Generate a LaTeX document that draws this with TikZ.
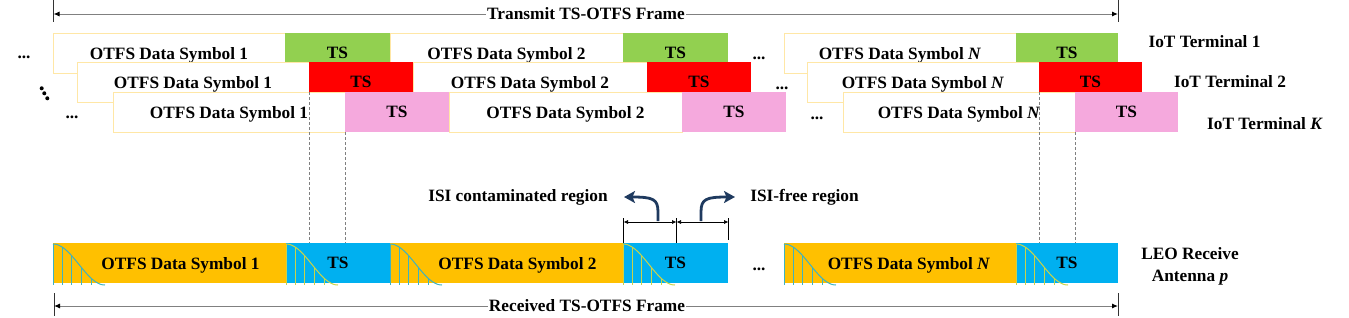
\documentclass[tikz,border=0pt]{standalone}
\usepackage{fontspec}
\setmainfont{Liberation Serif}
\usetikzlibrary{arrows.meta}
\definecolor{tsgreen}{HTML}{92D050}
\definecolor{tsred}{HTML}{FF0000}
\definecolor{tspink}{HTML}{F5A9DD}
\definecolor{rxorange}{HTML}{FFC000}
\definecolor{rxblue}{HTML}{00B0F0}
\definecolor{dborder}{HTML}{FFE7A6}
\definecolor{waveteal}{HTML}{3FB2C0}
\definecolor{waveyellow}{HTML}{C9D34A}
\definecolor{navy}{HTML}{1F3A5F}
\definecolor{framegray}{HTML}{808080}
\tikzset{pics/wave/.style={code={
  \draw[line width=1pt,#1] plot[domain=0:52,samples=40,smooth] (\x,{1+41*(1-cos(180*\x/52))/2});
  \foreach \o in {0,9,18,28,38}{\draw[line width=1pt,#1] (\o,{1+41*(1-cos(180*\o/52))/2}) -- (\o,42);}
}}}
\begin{document}
\begin{tikzpicture}[x=1pt,y=-1pt,
  font=\fontsize{17.3}{20}\selectfont\bfseries,
  box/.style={anchor=north west, minimum height=40pt, inner sep=0pt, outer sep=0pt, text depth=0pt},
  databox/.style={box, fill=white, draw=dborder, line width=0.8pt},
  tsbox/.style={box},
  rxbox/.style={box, fill=rxorange},
  rxts/.style={box, fill=rxblue},
  lab/.style={font=\fontsize{17.3}{22}\selectfont\bfseries, align=center},
  dotsnode/.style={inner sep=0pt},
  dline/.style={draw=framegray, line width=0.6pt, dash pattern=on 3pt off 2pt},
  framearrow/.style={draw=framegray, line width=1pt, {Latex[length=6pt,width=5pt,color=black]}-{Latex[length=6pt,width=5pt,color=black]}},
  tickline/.style={draw=black!80, line width=0.8pt},
  dimarrow/.style={draw=black, line width=0.7pt, {Latex[length=4.5pt,width=4pt]}-{Latex[length=4.5pt,width=4pt]}},
  bigarrow/.style={draw=navy, line width=2.8pt, -{Stealth[length=11pt,width=12pt,inset=2.5pt]}},
  framelab/.style={fill=white, inner sep=1pt}
]
\useasboundingbox (0,0) rectangle (1349,317);

% ---------- Row 1 (IoT Terminal 1)
\node[databox, minimum width=232pt] (d11) at (53,33) {OTFS Data Symbol 1};
\node[tsbox, fill=tsgreen, minimum width=105pt] (t11) at (d11.north east) {TS};
\node[databox, minimum width=233pt] (d12) at (t11.north east) {OTFS Data Symbol 2};
\node[tsbox, fill=tsgreen, minimum width=105pt] (t12) at (d12.north east) {TS};
\node[databox, minimum width=232pt] (d1N) at (784,33) {OTFS Data Symbol \textit{N}};
\node[tsbox, fill=tsgreen, minimum width=102pt] (t1N) at (d1N.north east) {TS};
\node[dotsnode] (dl1) at (24,57) {...};
\node[dotsnode] (dm1) at (759,58) {...};

% ---------- Row 2 (IoT Terminal 2)
\node[databox, minimum width=232pt] (d21) at (77,62) {OTFS Data Symbol 1};
\node[tsbox, fill=tsred, minimum width=104pt] (t21) at (d21.north east) {TS};
\node[databox, minimum width=234pt] (d22) at (t21.north east) {OTFS Data Symbol 2};
\node[tsbox, fill=tsred, minimum width=104pt] (t22) at (d22.north east) {TS};
\node[databox, minimum width=232pt] (d2N) at (807,62) {OTFS Data Symbol \textit{N}};
\node[tsbox, fill=tsred, minimum width=103pt] (t2N) at (d2N.north east) {TS};
\node[dotsnode] (dm2) at (782,88) {...};
\fill (41.7,88.3) circle (2pt) (44.3,93.3) circle (2pt) (47.3,98.3) circle (2pt);

% ---------- Row 3 (IoT Terminal K)
\node[databox, minimum width=232pt] (d31) at (113,92) {OTFS Data Symbol 1};
\node[tsbox, fill=tspink, minimum width=104pt] (t31) at (d31.north east) {TS};
\node[databox, minimum width=233pt] (d32) at (t31.north east) {OTFS Data Symbol 2};
\node[tsbox, fill=tspink, minimum width=104pt] (t32) at (d32.north east) {TS};
\node[databox, minimum width=232pt] (d3N) at (843,92) {OTFS Data Symbol \textit{N}};
\node[tsbox, fill=tspink, minimum width=103pt] (t3N) at (d3N.north east) {TS};
\node[dotsnode] (dl3) at (72,117) {...};
\node[dotsnode] (dm3) at (817,118) {...};

% ---------- Terminal labels
\node[lab] (iot1) at (1204.5,42) {IoT Terminal 1};
\node[lab] (iot2) at (1230,82) {IoT Terminal 2};
\node[lab] (iotK) at (1265,124) {IoT Terminal \textit{K}};

% ---------- Received frame
\node[rxbox, minimum width=233pt] (r1) at (53,243) {\hspace*{22pt}OTFS Data Symbol 1};
\node[rxts, minimum width=104pt] (rt1) at (r1.north east) {TS};
\node[rxbox, minimum width=233pt] (r2) at (rt1.north east) {\hspace*{22pt}OTFS Data Symbol 2};
\node[rxts, minimum width=105pt] (rt2) at (r2.north east) {TS};
\node[rxbox, minimum width=232pt] (rN) at (784,243) {\hspace*{18pt}OTFS Data Symbol \textit{N}};
\node[rxts, minimum width=102pt] (rtN) at (rN.north east) {TS};
\node[dotsnode] (dmr) at (759,269) {...};
\pic at (r1.north west) {wave=waveteal};
\pic at (rt1.north west) {wave=waveyellow};
\pic at (r2.north west) {wave=waveteal};
\pic at (rt2.north west) {wave=waveyellow};
\pic at (rN.north west) {wave=waveteal};
\pic at (rtN.north west) {wave=waveyellow};
\node[lab] (leo) at (1190,266) {LEO Receive\\Antenna \textit{p}};

% ---------- Dashed alignment lines
\draw[dline] (t21.south west |- d31.north) -- (t21.south west |- rt1.north);
\draw[dline] (t31.south west) -- (t31.south west |- rt1.north);
\draw[dline] (t2N.south west |- d3N.north) -- (t2N.south west |- rtN.north);
\draw[dline] (t3N.south west) -- (t3N.south west |- rtN.north);

% ---------- Transmit frame arrow
\coordinate (tft1) at (53.5,0); \coordinate (tfb1) at (53.5,22);
\coordinate (tft2) at (1118,0); \coordinate (tfb2) at (1118,22);
\coordinate (tfl) at (53.5,14); \coordinate (tfr) at (1118,14);
\draw[tickline] (tft1) -- (tfb1);
\draw[tickline] (tft2) -- (tfb2);
\draw[framearrow] (tfl) -- (tfr);
\node[framelab] (tflab) at (586,14) {Transmit TS-OTFS Frame};

% ---------- Received frame arrow
\coordinate (rft1) at (54,293); \coordinate (rfb1) at (54,316);
\coordinate (rft2) at (1118,293); \coordinate (rfb2) at (1118,316);
\coordinate (rfl) at (54,306); \coordinate (rfr) at (1118,306);
\draw[tickline] (rft1) -- (rfb1);
\draw[tickline] (rft2) -- (rfb2);
\draw[framearrow] (rfl) -- (rfr);
\node[framelab] (rflab) at (587,306) {Received TS-OTFS Frame};

% ---------- ISI regions
\coordinate (ia) at (623.5,218); \coordinate (ib) at (676.5,218); \coordinate (ic) at (728.5,218);
\coordinate (iab) at (623.5,243); \coordinate (ibb) at (676.5,243); \coordinate (icb) at (728.5,240);
\draw[tickline, draw=black] (ia) -- (iab);
\draw[tickline, draw=black] (ib) -- (ibb);
\draw[tickline, draw=black] (ic) -- (icb);
\coordinate (dal) at (623.5,222); \coordinate (dam) at (676.5,222); \coordinate (dar) at (728.5,222);
\draw[dimarrow] (dal) -- (dam);
\draw[dimarrow] (dam) -- (dar);
\coordinate (c1s) at (658,221); \coordinate (c1e) at (624,197);
\coordinate (c2s) at (701,221); \coordinate (c2e) at (735,197);
\draw[bigarrow] (c1s) -- (658,212) .. controls (658,199) and (653,197) .. (c1e);
\draw[bigarrow] (c2s) -- (701,212) .. controls (701,199) and (706,197) .. (c2e);
\node (isic) at (518,197) {ISI contaminated region};
\node (isif) at (804.5,197) {ISI-free region};
\end{tikzpicture}
\end{document}
